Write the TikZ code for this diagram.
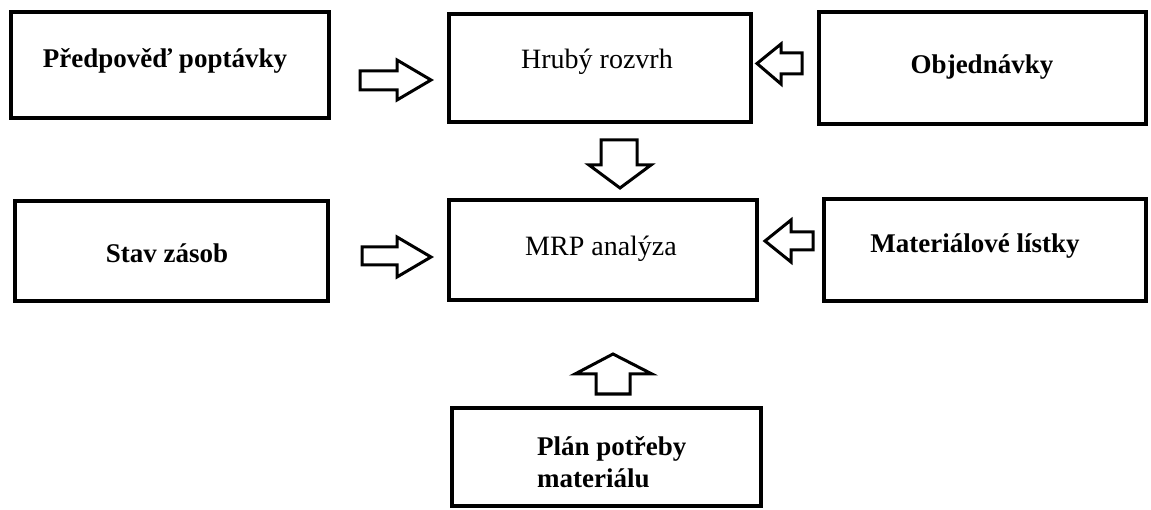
\documentclass[tikz,border=0pt]{standalone}
\usepackage{fontspec}
\setmainfont{Liberation Serif}
\begin{document}
\begin{tikzpicture}[x=1pt,y=-1pt,
  box/.style={draw, line width=4.5pt, inner sep=0pt, fill=white},
  barrow/.style={draw, line width=3pt, line join=miter, fill=white},
  lblb/.style={anchor=base, inner sep=0pt, font=\fontsize{27}{32}\selectfont\bfseries},
  lblr/.style={anchor=base, inner sep=0pt, font=\fontsize{28}{32}\selectfont},
  lblleft/.style={anchor=base west, inner sep=0pt, align=left,
    font=\fontsize{27}{32}\selectfont\bfseries}]
\useasboundingbox[fill=white] (0,0) rectangle (1151,510);

% boxes
\node[box, minimum width=318pt, minimum height=106pt] (fc)  at (170,65)    {};
\node[box, minimum width=302pt, minimum height=108pt] (mps) at (600,68)    {};
\node[box, minimum width=327pt, minimum height=112pt] (ord) at (982.5,68)  {};
\node[box, minimum width=313pt, minimum height=100pt] (inv) at (171.5,251) {};
\node[box, minimum width=308pt, minimum height=100pt] (mrp) at (603,250)   {};
\node[box, minimum width=322pt, minimum height=102pt] (bom) at (985,250)   {};
\node[box, minimum width=309pt, minimum height=98pt]  (plan) at (606.5,457) {};

% labels
\node[lblb] (tfc)  at (165,68)  {Předpověď poptávky};
\node[lblr] (tmps) at (597,69)  {Hrubý rozvrh};
\node[lblb] (tord) at (982,74)  {Objednávky};
\node[lblb] (tinv) at (167,263) {Stav zásob};
\node[lblr] (tmrp) at (601,256) {MRP analýza};
\node[lblb] (tbom) at (975,253) {Materiálové lístky};
\node[lblleft] (tplan) at (537,487) {Plán potřeby\\materiálu};

% block arrows between the boxes
\draw[barrow] (360,71) -- (397,71) -- (397,60) -- (431,80) -- (397,100)
  -- (397,90) -- (360,90) -- cycle;
\draw[barrow] (802,53) -- (781,53) -- (781,44) -- (757,63.5) -- (781,84)
  -- (781,74) -- (802,74) -- cycle;
\draw[barrow] (601,140) -- (601,165) -- (589,165) -- (620,188) -- (651,165)
  -- (637,165) -- (637,140) -- cycle;
\draw[barrow] (362,247) -- (397,247) -- (397,237) -- (431,257) -- (397,277)
  -- (397,265) -- (362,265) -- cycle;
\draw[barrow] (813,232) -- (791,232) -- (791,220) -- (765,241) -- (791,262)
  -- (791,250) -- (813,250) -- cycle;
\draw[barrow] (596,394) -- (596,374) -- (575,374) -- (613,354) -- (652,374)
  -- (630,374) -- (630,394) -- cycle;
\end{tikzpicture}
\end{document}
